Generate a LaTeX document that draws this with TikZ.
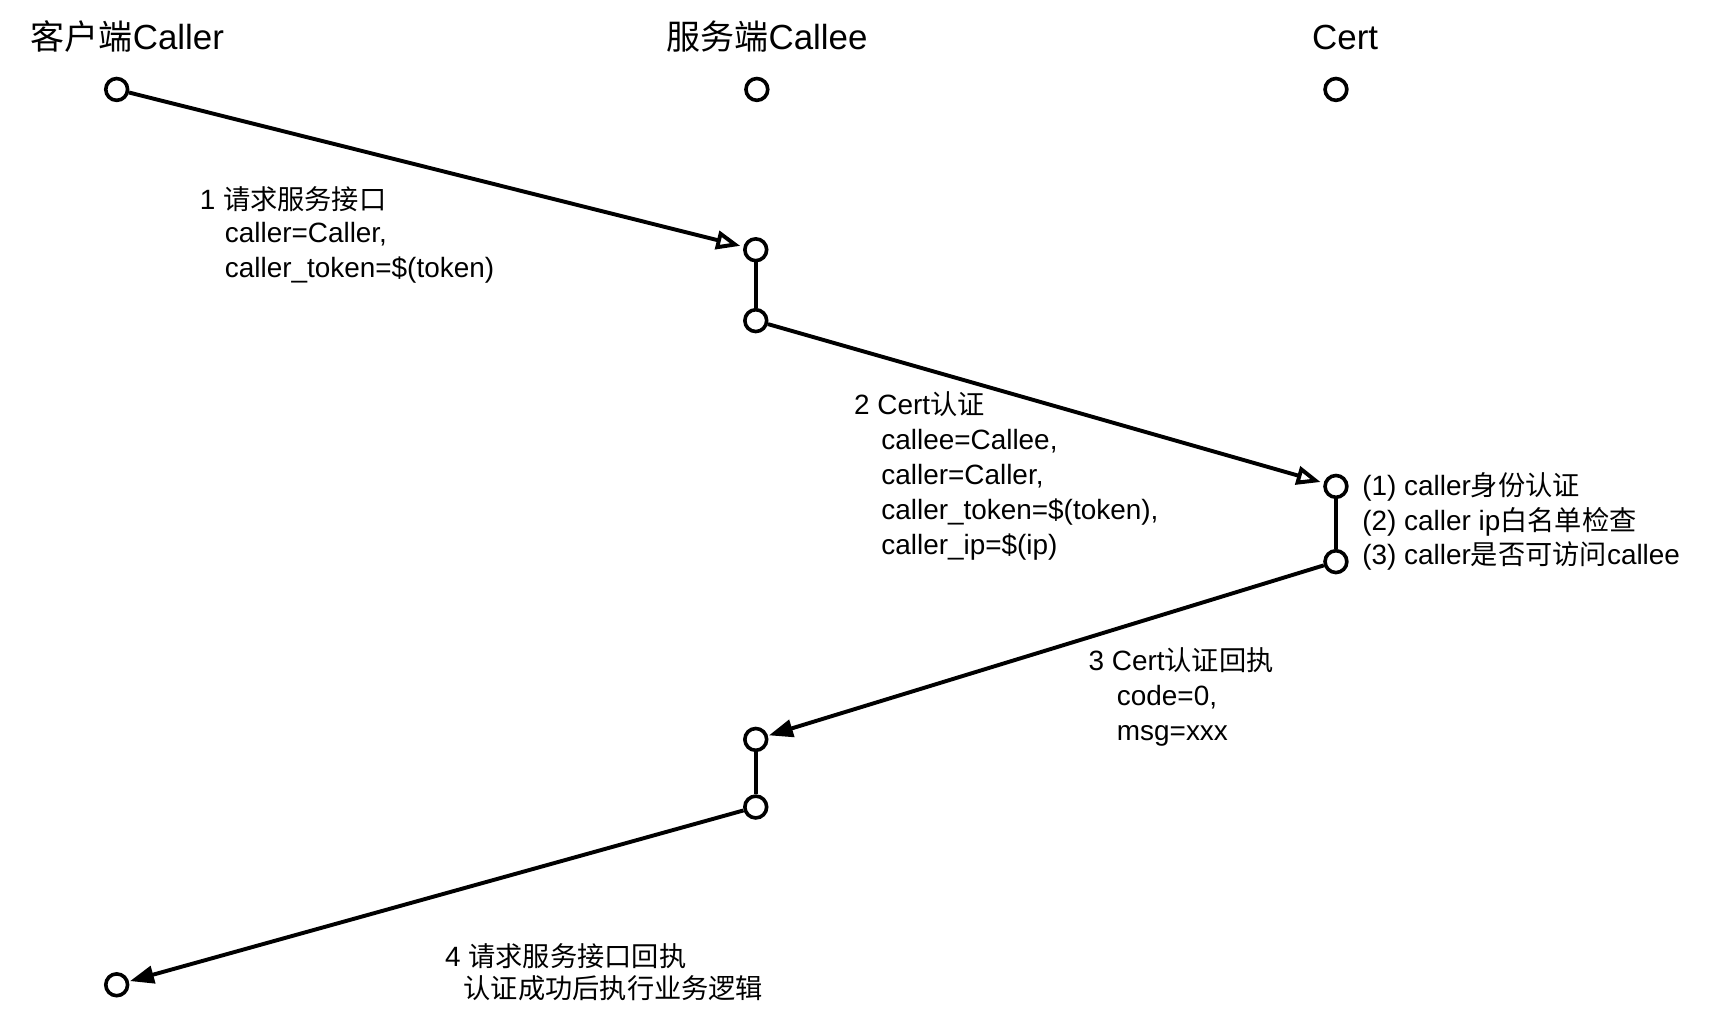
\documentclass[tikz,border=0pt]{standalone}
\usepackage{fontspec}
\setmainfont{Liberation Sans}
\newfontfamily\cjk[Scale=0.975]{Noto Sans CJK SC}
\usetikzlibrary{arrows.meta}
\tikzset{
  dot/.style={circle, draw, line width=3.3pt, minimum size=20pt, inner sep=0pt, fill=white},
  msgopen/.style={line width=3.6pt, shorten >=3pt, -{Triangle[open, length=22pt, width=17pt]}},
  msgfill/.style={line width=3.6pt, shorten >=1pt, -{Triangle[length=22pt, width=16pt]}},
  seg/.style={line width=3.2pt},
  ttl/.style={anchor=base west, inner sep=0pt, font=\fontsize{32}{36}\selectfont},
  lbl/.style={anchor=base west, inner sep=0pt, font=\fontsize{25.6}{30}\selectfont},
}
\begin{document}
\begin{tikzpicture}[x=1pt,y=-1pt]
\useasboundingbox (0,0) rectangle (1568,935.3);
% titles
\node[ttl] (t1) at (28,45) {{\cjk 客户端}Caller};
\node[ttl] (t2) at (611,45) {{\cjk 服务端}Callee};
\node[ttl] (t3) at (1203,45) {Cert};
% points
\node[dot] (c0) at (107,82) {};
\node[dot] (e0) at (694,82) {};
\node[dot] (r0) at (1225,82) {};
\node[dot] (e1) at (693,229) {};
\node[dot] (e2) at (693,294) {};
\node[dot] (r1) at (1225,446) {};
\node[dot] (r2) at (1225,515) {};
\node[dot] (e3) at (693,678) {};
\node[dot] (e4) at (693,740) {};
\node[dot] (c1) at (107,903) {};
% connectors
\draw[seg] (e1) -- (e2);
\draw[seg] (r1) -- (r2);
\draw[seg] (e3) -- (e4);
\draw[msgopen] (c0) -- (e1);
\draw[msgopen] (e2) -- (r1);
\draw[msgfill] (r2) -- (e3);
\draw[msgfill] (e4) -- (c1);
% label 1
\node[lbl] (a1) at (183,192) {1 {\cjk 请求服务接口}};
\node[lbl] (a2) at (206,222) {caller=Caller,};
\node[lbl] (a3) at (206,254) {caller\_token=\$(token)};
% label 2
\node[lbl] (b1) at (783,380) {2 Cert{\cjk 认证}};
\node[lbl] (b2) at (808,412) {callee=Callee,};
\node[lbl] (b3) at (808,444) {caller=Caller,};
\node[lbl] (b4) at (808,476) {caller\_token=\$(token),};
\node[lbl] (b5) at (808,508) {caller\_ip=\$(ip)};
% cert checks
\node[lbl] (k1) at (1249,454) {(1) caller{\cjk 身份认证}};
\node[lbl] (k2) at (1249,486) {(2) caller ip{\cjk 白名单检查}};
\node[lbl] (k3) at (1249,518) {(3) caller{\cjk 是否可访问}callee};
% label 3
\node[lbl] (d1) at (998,615) {3 Cert{\cjk 认证回执}};
\node[lbl] (d2) at (1024,647) {code=0,};
\node[lbl] (d3) at (1024,679) {msg=xxx};
% label 4
\node[lbl] (f1) at (408,886) {4 {\cjk 请求服务接口回执}};
\node[lbl] (f2) at (425,916) {\cjk 认证成功后执行业务逻辑};
\end{tikzpicture}
\end{document}
